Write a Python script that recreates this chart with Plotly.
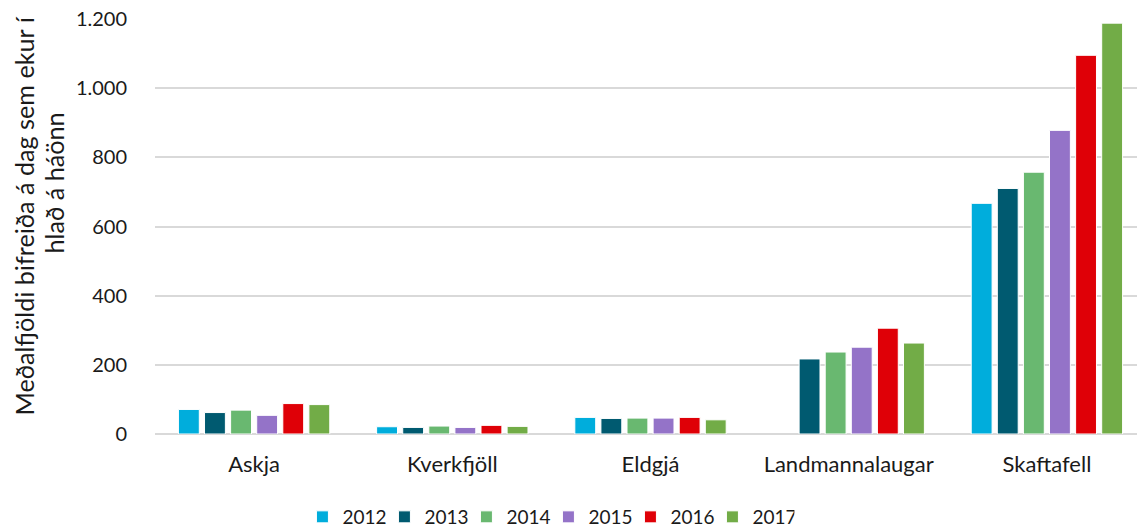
import plotly.graph_objects as go

categories = ["Askja", "Kverkfjöll", "Eldgjá", "Landmannalaugar", "Skaftafell"]
years = ["2012", "2013", "2014", "2015", "2016", "2017"]
v2012 = [71, 21, 48, None, 667]
v2013 = [62, 19, 45, 217, 710]
v2014 = [69, 23, 46, 237, 757]
v2015 = [54, 19, 46, 251, 878]
v2016 = [88, 25, 48, 306, 1095]
v2017 = [85, 22, 41, 263, 1188]
series = [v2012, v2013, v2014, v2015, v2016, v2017]
colors = ["#00ADDC", "#005A70", "#69B870", "#9473C8", "#DF0007", "#72AC47"]
y_title_1 = "Meðalfjöldi bifreiða á dag sem ekur í"
y_title_2 = "hlað á háönn"

fig = go.Figure()
for name, vals, c in zip(years, series, colors):
    fig.add_trace(go.Bar(x=categories, y=vals, name=name,
                         marker=dict(color=c, line=dict(color="white", width=1))))

font = "Lato, 'Open Sans', sans-serif"
W, H = 1146, 528
L, R, T, B = 155, 0, 19, 94
PW, PH = W - L - R, H - T - B
fig.update_layout(
    width=W, height=H,
    margin=dict(l=L, r=R, t=T, b=B, autoexpand=False),
    paper_bgcolor="white", plot_bgcolor="white",
    separators=",.",
    barmode="group", bargap=0.21, bargroupgap=0.2,
    font=dict(family=font, size=20, color="#1a1a1a"),
    legend=dict(orientation="h", x=0.397, xanchor="center", y=-0.2, yanchor="middle",
                font=dict(size=19), itemwidth=30, traceorder="normal",
                entrywidth=37, entrywidthmode="pixels"),
    showlegend=True,
)
# title lines: (text, centre x px, bottom y px)
for txt, px, by in ((y_title_1, 23, 418), (y_title_2, 53, 256)):
    fig.add_annotation(text=txt, textangle=-90, xref="paper", yref="paper",
                       x=(px - L) / PW, y=(H - B - by) / PH,
                       xanchor="center", yanchor="bottom",
                       showarrow=False, font=dict(size=25.2, color="#1a1a1a"))
fig.update_yaxes(range=[0, 1200], tickvals=[0, 200, 400, 600, 800, 1000, 1200],
                 tickformat=",d", showgrid=True, gridcolor="#d9d9d9", gridwidth=1.5,
                 zeroline=True, zerolinecolor="#d9d9d9", zerolinewidth=2,
                 ticks="", ticklabelstandoff=27,
                 tickfont=dict(size=20))
fig.update_xaxes(showline=False, ticks="outside", ticklen=11, tickcolor="rgba(0,0,0,0)",
                 tickfont=dict(size=22))

fig.write_html("out.html", config={"displayModeBar": False},
               post_script="document.body.style.margin='0';document.body.style.overflow='hidden';")
